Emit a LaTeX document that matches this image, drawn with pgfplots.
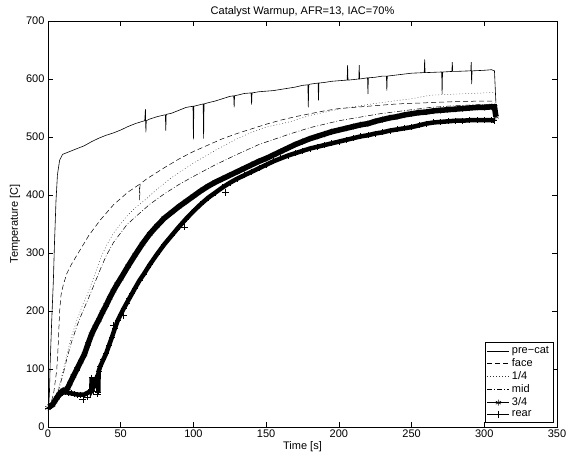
\documentclass[border=0pt]{standalone}
\usepackage{fontspec}
\setmainfont{Liberation Sans}
\usepackage{pgfplots}
\pgfplotsset{compat=1.18}
\begin{document}
\begin{tikzpicture}
\begin{axis}[
  scale only axis, width=509pt, height=406pt,
  xmin=0, xmax=350, ymin=0, ymax=700,
  xtick={0,50,...,350}, ytick={0,100,...,700},
  tick align=inside, xtick pos=both, ytick pos=both,
  major tick length=5pt, minor tick num=0,
  /pgf/number format/assume math mode=true,
  ticklabel style={font=\fontsize{11}{12}\selectfont},
  xticklabel style={yshift=1pt},
  xlabel={Time [s]}, ylabel={Temperature [C]},
  label style={font=\fontsize{11}{12}\selectfont},
  xlabel style={yshift=3pt}, ylabel style={yshift=-1pt},
  title={Catalyst Warmup, AFR=13, IAC=70\%},
  title style={font=\fontsize{11}{12}\selectfont, yshift=-5pt},
  axis line style={line width=0.6pt},
  every tick/.style={black, line width=0.5pt},
  legend style={at={(0.993,0.01)}, anchor=south east, font=\fontsize{11}{13}\selectfont,
    draw=black, line width=0.6pt, inner sep=2pt, row sep=-0.8pt,
    nodes={inner sep=2.2pt}},
  legend cell align=left,
  legend image code/.code={\draw[mark repeat=2, mark phase=2, #1] plot coordinates {(0pt,0pt) (11pt,0pt) (22pt,0pt)};},
]
% pre-cat
\addplot[black, line width=0.6pt, forget plot] coordinates {
(0,33)(0.6,40)(1,60)(1.5,110)(2.5,180)(3.7,253)(4.5,320)(5.5,390)(6.5,435)(8,460)(10,470)
(12,472)(15,475)(20,480)(25,485)(30,492)(35,498)(40,503)(45,507)(50,512)(55,518)(60,523)
(65,527)(66.5,528)(67,548)(67.3,508)(67.6,528)(70,531)(75,535)(80,538)(80.7,538)(81,511)(81.3,539)
(85,541)(90,546)(95,551)(99.7,553)(100,496)(100.3,553)(105,556)(106.7,557)(107,497)(107.3,557)
(110,559)(115,562)(120,566)(125,570)(127.7,571)(128,551)(128.3,571)(130,572)(135,575)
(139.7,576)(140,556)(140.3,576)(145,578)(150,579)(155,580)(160,582)(165,584)(170,586)(175,589)
(178.7,590)(179,551)(179.3,590)(180,591)(185.7,593)(186,563)(186.3,593)(190,594)(195,596)
(200,597)(205,598)(205.7,598)(206,624)(206.3,598)(210,599)(213.7,600)(214,624)(214.3,600)
(219.7,602)(220,574)(220.3,602)(225,603)(230,605)(232.7,605)(233,580)(233.3,605)(240,607)
(250,610)(258.7,611)(259,634)(259.3,611)(260,611)(270,612)(270.7,612)(271,574)(271.3,612)
(277.7,613)(278,629)(278.3,613)(280,613)(290,614)(290.7,614)(291,629)(291.3,591)(291.6,614)
(300,615)(305,616)(307,614)(308,558)};
% face
\addplot[black, line width=0.5pt, dash pattern=on 5pt off 3pt, forget plot] coordinates {
(0,33)(2,40)(4,60)(6,98)(7,140)(8,200)(9,228)(10.5,245)(13,265)(16,280)(22,305)(28,330)
(36,357)(45,383)(55,405)(62.7,418)(63,391)(63.3,419)(68,428)(80,447)(90,462)(100,475)(110,486)(120,497)
(130,506)(140,514)(150,522)(160,529)(170,535)(180,540)(190,545)(200,549)(220,553)(240,557)
(260,559)(280,561)(300,562)(307,562)};
% 1/4
\addplot[black!80, line width=0.45pt, dash pattern=on 0.8pt off 2.2pt, forget plot] coordinates {
(0,33)(3,38)(6,55)(8,75)(10.5,98)(13,125)(16,155)(20,185)(24,212)(27,228)(30,248)(36,290)
(40,312)(45,334)(54,363)(60,378)(67,392)(75,410)(85,430)(100,455)(115,477)(130,497)(140,508)
(150,517)(166,526)(180,537)(200,548)(228,559)(250,566)(263,572)(280,574)(300,576)(307,577)};
% mid
\addplot[black, line width=0.5pt, dash pattern=on 5pt off 2pt on 0.8pt off 2pt, forget plot] coordinates {
(0,33)(3,37)(6,52)(8,70)(10.5,92)(13,118)(16,145)(20,175)(24,200)(27,217)(30,235)(36,272)
(40,295)(45,318)(54,348)(60,362)(70,384)(80,402)(90,418)(100,432)(115,452)(130,470)(145,487)
(166,505)(180,516)(200,528)(228,540)(250,547)(263,551)(280,554)(300,556)(307,557)};
% 3/4
\addplot[black, line width=5.5pt, mark=asterisk, mark size=3.2pt, mark options={solid, line width=0.5pt}, forget plot] coordinates {
(0,33)(1.5,36)(3,38)(4.5,44)(6,50)(7.5,56)(9,60)(10.5,63)(12,63)(13.5,67)(15,75)(17.5,88)(20,100)
(22.5,113)(25,125)(27.5,143)(30,160)(32.5,173)(35,185)(37.5,198)(40,210)(42.5,223)(45,235)
(47.5,246)(50,256)(55,277)(60,297)(65,316)(70,333)(75,347)(80,360)(85,370)(90,380)(95,389)
(100,398)(105,407)(110,415)(115,422)(120,428)(125,434)(130,440)(135,446)(140,452)(145,458)
(150,463)(155,469)(160,475)(165,481)(170,487)(175,492)(180,497)(185,501)(190,505)(195,509)
(200,512)(205,515)(210,518)(215,521)(220,523)(225,527)(230,530)(235,533)(240,535)(245,538)
(250,540)(255,542)(260,543)(265,545)(270,546)(275,547)(280,548)(285,549)(290,550)(295,551)
(300,551)(305,552)(307,552)(308,535)};
% rear
\addplot[black, line width=4.5pt, mark=+, mark size=3pt, mark options={solid, line width=0.5pt}, forget plot] coordinates {
(0,33)(2,37)(4,42)(6,49)(8,55)(10,59)(12,60)(14,59)(16,58)(18,57)(20,56)(22,56)(25,56)(28,60)
(29.8,62)(30,85)(30.2,64)(32,72)(33,82)(34.4,90)(34.6,60)(34.8,96)(36,105)(38,116)(40,127)(42,141)(44,155)(46,170)(48,184)
(50,194)(52,204)(54,213)(56,222)(58,231)(60,240)(63,253)(66,264)(70,280)(75,298)(80,315)
(85,330)(90,345)(95,359)(100,372)(105,384)(110,395)(115,404)(120,413)(125,421)(130,428)
(135,434)(140,440)(145,446)(150,452)(155,458)(160,463)(165,468)(170,472)(175,476)(180,480)
(185,483)(190,486)(195,489)(200,492)(205,495)(210,498)(215,501)(220,503)(225,506)(230,508)
(235,511)(240,513)(245,515)(250,517)(255,520)(260,523)(265,525)(270,526)(275,527)(280,528)
(285,528)(290,529)(295,529)(300,529)(305,529)(307,528)};
\addplot[black, only marks, mark=+, mark size=3.5pt, mark options={line width=0.5pt}, forget plot] coordinates {
(24,48)(27,52)(31,62)(34,57)(94,345)(122,405)(45,175)(52,192)};
\addlegendimage{black, line width=0.6pt}
\addlegendentry{pre−cat}
\addlegendimage{black, line width=0.5pt, dash pattern=on 5pt off 3pt}
\addlegendentry{face}
\addlegendimage{black!80, line width=0.45pt, dash pattern=on 0.8pt off 2.2pt}
\addlegendentry{1/4}
\addlegendimage{black, line width=0.5pt, dash pattern=on 5pt off 2pt on 0.8pt off 2pt}
\addlegendentry{mid}
\addlegendimage{black, line width=0.6pt, mark=asterisk, mark size=3pt, mark options={solid}}
\addlegendentry{3/4}
\addlegendimage{black, line width=0.6pt, mark=+, mark size=3.5pt, mark options={solid}}
\addlegendentry{rear}
\end{axis}
\pgfresetboundingbox
\useasboundingbox ([xshift=-48pt,yshift=-35pt]current axis.south west) rectangle ([xshift=14pt,yshift=21pt]current axis.north east);
\end{tikzpicture}
\end{document}
